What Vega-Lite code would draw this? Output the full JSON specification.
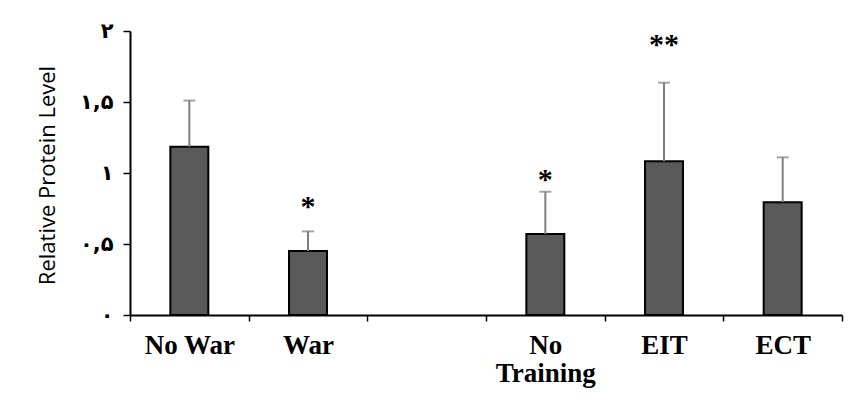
{
  "$schema": "https://vega.github.io/schema/vega-lite/v6.json",
  "autosize": "none",
  "width": 712,
  "height": 284,
  "padding": {"left": 130, "top": 31, "right": 15, "bottom": 87},
  "background": "white",
  "config": {"view": {"stroke": null}},
  "data": {
    "values": [
      {"group": "No War", "value": 1.185, "upper": 1.51, "star": "", "star_y": null},
      {"group": "War", "value": 0.45, "upper": 0.589, "star": "*", "star_y": 0.81},
      {"group": "gap", "value": null, "upper": null, "star": "", "star_y": null},
      {"group": "No Training", "value": 0.57, "upper": 0.868, "star": "*", "star_y": 1.0},
      {"group": "EIT", "value": 1.082, "upper": 1.636, "star": "**", "star_y": 1.95},
      {"group": "ECT", "value": 0.794, "upper": 1.11, "star": "", "star_y": null}
    ]
  },
  "encoding": {
    "x": {
      "field": "group",
      "type": "nominal",
      "sort": ["No War", "War", "gap", "No Training", "EIT", "ECT"],
      "scale": {"domain": ["No War", "War", "gap", "No Training", "EIT", "ECT"], "paddingInner": 0, "paddingOuter": 0},
      "axis": {
        "title": null,
        "labelAngle": 0,
        "tickBand": "extent",
        "domainColor": "black",
        "domainWidth": 2,
        "tickColor": "black",
        "tickWidth": 1.5,
        "tickSize": 6,
        "labelFont": "Liberation Serif",
        "labelFontWeight": "bold",
        "labelFontSize": 27,
        "labelColor": "black",
        "labelBaseline": "top",
        "labelPadding": 11,
        "labelLineHeight": 28,
        "labelExpr": "datum.value == 'No Training' ? ['No', 'Training'] : (datum.value == 'gap' ? '' : datum.value)"
      }
    }
  },
  "layer": [
    {
      "mark": {"type": "bar", "width": {"band": 0.32}, "fill": "#595959", "stroke": "black", "strokeWidth": 2},
      "encoding": {
        "y": {
          "field": "value",
          "type": "quantitative",
          "scale": {"domain": [0, 2], "nice": false},
          "axis": {
            "title": "Relative Protein Level",
            "titleFont": "Open Sans",
            "titleFontWeight": "normal",
            "titleFontSize": 22,
            "titleColor": "black",
            "titleAngle": -90,
            "titleX": -83,
            "titleY": 144,
            "titleAlign": "center",
            "titleBaseline": "middle",
            "values": [0, 0.5, 1, 1.5, 2],
            "grid": false,
            "domainColor": "black",
            "domainWidth": 2,
            "tickColor": "black",
            "tickWidth": 1.5,
            "tickSize": 7,
            "labelPadding": 10,
            "labelFont": "DejaVu Sans",
            "labelFontWeight": "bold",
            "labelFontSize": 21,
            "labelColor": "black",
            "labelExpr": "datum.value == 0 ? '۰' : datum.value == 0.5 ? '۰,۵' : datum.value == 1 ? '۱' : datum.value == 1.5 ? '۱,۵' : '۲'"
          }
        }
      }
    },
    {
      "mark": {"type": "rule", "color": "#7f7f7f", "strokeWidth": 2},
      "encoding": {"y": {"field": "value", "type": "quantitative"}, "y2": {"field": "upper"}}
    },
    {
      "mark": {"type": "tick", "color": "#7f7f7f", "size": 12, "thickness": 2, "orient": "horizontal"},
      "encoding": {"y": {"field": "upper", "type": "quantitative"}}
    },
    {
      "mark": {"type": "text", "font": "Liberation Serif", "fontWeight": "bold", "fontSize": 30, "baseline": "middle", "dy": 7, "color": "black"},
      "encoding": {"y": {"field": "star_y", "type": "quantitative"}, "text": {"field": "star"}}
    }
  ]
}
